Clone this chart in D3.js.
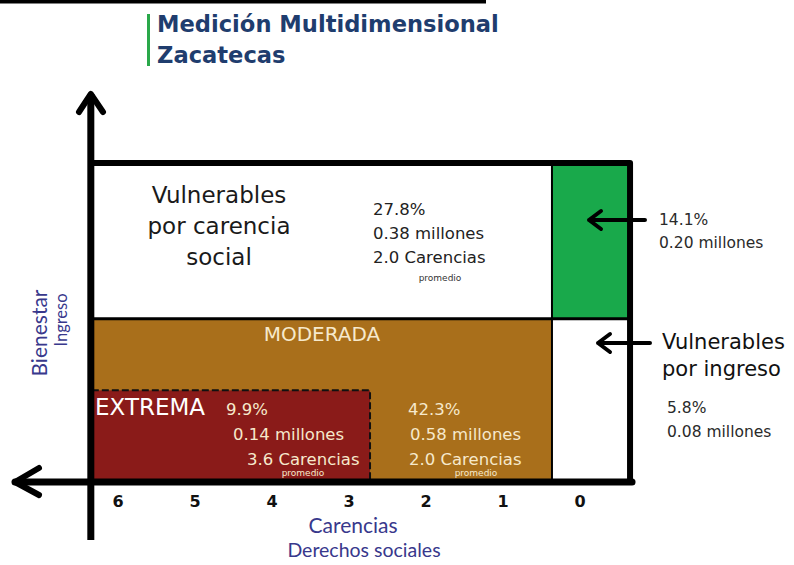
<!DOCTYPE html>
<html>
<head>
<meta charset="utf-8">
<script src="https://cdn.jsdelivr.net/npm/d3@7"></script>
<style>
  body { margin: 0; background: #fff; }
  svg { display: block; }
</style>
</head>
<body>
<div id="chart"></div>
<script>
"use strict";

// datos (CONEVAL, Zacatecas)
var grupos = ["Vulnerables por carencia social", "Vulnerables por ingreso", "No pobres y no vulnerables", "Pobreza moderada", "Pobreza extrema"];
var porcentajes = [27.8, 5.8, 14.1, 42.3, 9.9];
var millones = [0.38, 0.08, 0.20, 0.58, 0.14];
var carenciasProm = [2.0, null, null, 2.0, 3.6];
var carencias = [6, 5, 4, 3, 2, 1, 0];

// cortes de las regiones (en unidades de carencias / ingreso relativo)
var corteCarencia = 0.364, corteExtrema = 2.727;
var lineaBienestar = 0.51, lineaMinima = 0.285;
var carenciaMin = -0.65, carenciaMax = 6.34;

var width = 794, height = 565;

var svg = d3.select("#chart")
            .append("svg")
            .attr("width", width)
            .attr("height", height)

var x = d3.scaleLinear().domain([0, 6]).range([580, 118]);
var y = d3.scaleLinear().domain([0, 1]).range([481, 163]);

var cream = "#f6e9cc", navy = "#38388c";

// encabezado
svg.append("line").attr("x1", 0).attr("x2", 486).attr("y1", 1.5).attr("y2", 1.5)
   .attr("stroke", "#000").attr("stroke-width", 4)
svg.append("rect").attr("x", 147).attr("y", 14).attr("width", 3).attr("height", 52).attr("fill", "#2aa84a")
svg.append("text").attr("x", 157).attr("y", 32).text("Medición Multidimensional")
   .attr("font-family", "DejaVu Sans").attr("font-weight", "bold").attr("font-size", 22.6).attr("fill", "#1f3d6e")
svg.append("text").attr("x", 157).attr("y", 63).text("Zacatecas")
   .attr("font-family", "DejaVu Sans").attr("font-weight", "bold").attr("font-size", 22.6).attr("fill", "#1f3d6e")

// regiones
var regiones = [
  {c0: carenciaMax, c1: corteCarencia, i0: lineaBienestar, i1: 1, fill: "#ffffff"},
  {c0: corteCarencia, c1: carenciaMin, i0: lineaBienestar, i1: 1, fill: "#19a94b"},
  {c0: carenciaMax, c1: corteCarencia, i0: 0, i1: lineaBienestar, fill: "#a96f1b"},
  {c0: corteCarencia, c1: carenciaMin, i0: 0, i1: lineaBienestar, fill: "#ffffff"},
  {c0: carenciaMax, c1: corteExtrema, i0: 0, i1: lineaMinima, fill: "#8a1b19"}
]

svg.selectAll(".region")
   .data(regiones)
   .enter()
   .append("rect")
   .attr("class", "region")
   .attr("x", function(d) { return x(d.c0) })
   .attr("y", function(d) { return y(d.i1) })
   .attr("width", function(d) { return x(d.c1) - x(d.c0) })
   .attr("height", function(d) { return y(d.i0) - y(d.i1) })
   .attr("fill", function(d) { return d.fill })

// lineas internas
svg.append("line").attr("x1", x(carenciaMax)).attr("x2", x(carenciaMin))
   .attr("y1", y(lineaBienestar)).attr("y2", y(lineaBienestar))
   .attr("stroke", "#000").attr("stroke-width", 3)
svg.append("line").attr("x1", x(corteCarencia)).attr("x2", x(corteCarencia))
   .attr("y1", y(1)).attr("y2", y(0))
   .attr("stroke", "#000").attr("stroke-width", 2)
svg.append("path")
   .attr("d", "M" + x(carenciaMax) + "," + y(lineaMinima) + "H" + x(corteExtrema) + "V" + y(0))
   .attr("fill", "none").attr("stroke", "#111").attr("stroke-width", 2).attr("stroke-dasharray", "7,3")

// marco y ejes
var stroke = function(sel) { return sel.attr("stroke", "#000").attr("stroke-width", 6).attr("fill", "none").attr("stroke-linecap", "round").attr("stroke-linejoin", "round") }
svg.append("path").call(stroke)
   .attr("d", "M" + x(carenciaMax) + "," + y(1) + "H" + x(carenciaMin) + "V" + y(0))
// eje vertical
svg.append("path").call(stroke).attr("stroke-linecap", "butt").attr("stroke-width", 7)
   .attr("d", "M" + (x(carenciaMax) - 1) + ",540V94")
svg.append("path").call(stroke)
   .attr("d", "M79,112L" + (x(carenciaMax) - 1) + ",94L103,112")
// eje horizontal
svg.append("path").call(stroke).attr("stroke-width", 7)
   .attr("d", "M" + (x(carenciaMin) + 2) + "," + (y(0) + 1) + "H15")
svg.append("path").call(stroke)
   .attr("d", "M39,468L15," + (y(0) + 1) + "L39,495")

// ticks de carencias
svg.selectAll(".tick")
   .data(carencias)
   .enter()
   .append("text")
   .attr("class", "tick")
   .attr("x", function(d) { return x(d) })
   .attr("y", 507)
   .attr("text-anchor", "middle")
   .attr("font-family", "DejaVu Sans")
   .attr("font-weight", "bold")
   .attr("font-size", 16)
   .attr("fill", "#111")
   .text(function(d) { return d })

// etiquetas de ejes
svg.append("text").attr("x", 353).attr("y", 533).attr("text-anchor", "middle")
   .attr("font-family", "Lato").attr("font-size", 21).attr("fill", navy).text("Carencias")
svg.append("text").attr("x", 364).attr("y", 557).attr("text-anchor", "middle")
   .attr("font-family", "Lato").attr("font-size", 19.5).attr("fill", navy).text("Derechos sociales")
svg.append("text").attr("transform", "translate(47,333) rotate(-90)").attr("text-anchor", "middle")
   .attr("font-family", "Lato").attr("font-size", 21).attr("fill", navy).text("Bienestar")
svg.append("text").attr("transform", "translate(67,320) rotate(-90)").attr("text-anchor", "middle")
   .attr("font-family", "Lato").attr("font-size", 16.5).attr("fill", navy).text("Ingreso")

function fmt(i) {
  return [porcentajes[i].toFixed(1) + "%", d3.format(".2f")(millones[i]) + " millones"]
}

function bloque(lines, px, py, opts) {
  var t = svg.append("text")
     .attr("font-family", "DejaVu Sans")
     .attr("font-size", opts.size || 16)
     .attr("fill", opts.fill || "#222")
     .attr("text-anchor", opts.anchor || "start")
  lines.forEach(function(l, k) {
    t.append("tspan").attr("x", px + (opts.dx ? opts.dx[k] : 0)).attr("y", py + k * (opts.lh || 25)).text(l)
  })
  return t
}

function promedio(px, py, fill) {
  svg.append("text").attr("x", px).attr("y", py).attr("text-anchor", "middle")
     .attr("font-family", "DejaVu Sans").attr("font-size", 9).attr("fill", fill).text("promedio")
}

// vulnerables por carencia social
bloque(["Vulnerables", "por carencia", "social"], 219, 203, {size: 23, anchor: "middle", lh: 31, fill: "#1a1a1a"})
bloque(fmt(0).concat([carenciasProm[0].toFixed(1) + " Carencias"]), 373, 215, {size: 16.5, lh: 24})
promedio(440, 281, "#333")

// pobreza moderada
svg.append("text").attr("x", 322).attr("y", 341).attr("text-anchor", "middle")
   .attr("font-family", "DejaVu Sans").attr("font-size", 20).attr("fill", cream).text("MODERADA")
bloque(fmt(3).concat([carenciasProm[3].toFixed(1) + " Carencias"]), 408, 415, {size: 16.5, lh: 25, fill: cream, dx: [0, 2, 1]})
promedio(476, 476, cream)

// pobreza extrema
svg.append("text").attr("x", 95).attr("y", 415)
   .attr("font-family", "DejaVu Sans").attr("font-size", 23).attr("fill", "#ffffff").text("EXTREMA")
bloque(fmt(4).concat([carenciasProm[4].toFixed(1) + " Carencias"]), 226, 415, {size: 16.5, lh: 25, fill: cream, dx: [0, 7, 21]})
promedio(303, 476, cream)

// flechas laterales
function flecha(x0, x1, yy) {
  svg.append("path").call(stroke).attr("stroke-width", 4)
     .attr("d", "M" + x0 + "," + yy + "H" + x1 + "M" + (x1 + 12) + "," + (yy - 9) + "L" + x1 + "," + yy + "L" + (x1 + 12) + "," + (yy + 9))
}
flecha(645, 589, 220)
flecha(650, 598, 343)

// no pobres y no vulnerables
bloque(fmt(2), 659, 225, {size: 15.5, lh: 23, fill: "#2a2a2a"})
// vulnerables por ingreso
bloque(["Vulnerables", "por ingreso"], 662, 349, {size: 21, lh: 27, fill: "#111"})
bloque(fmt(1), 667, 413, {size: 15.5, lh: 24, fill: "#2a2a2a"})
</script>
</body>
</html>
